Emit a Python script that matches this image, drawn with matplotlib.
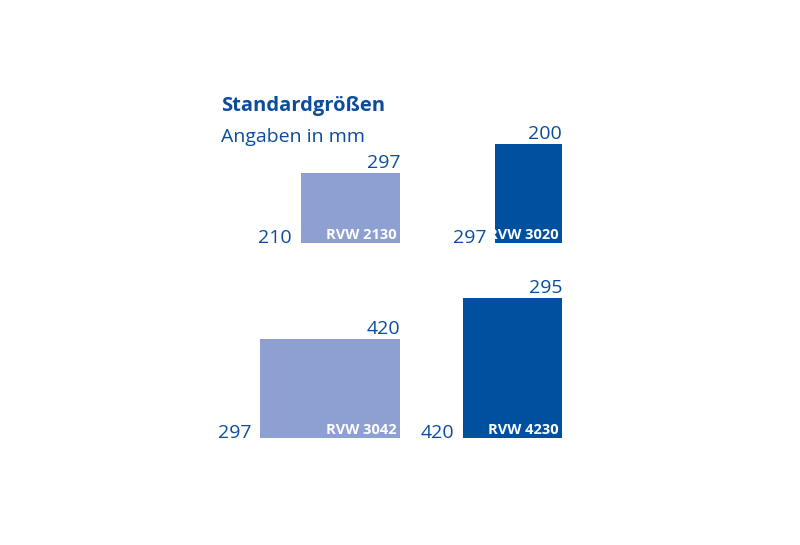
import matplotlib
matplotlib.use("Agg")
import matplotlib.pyplot as plt
from matplotlib.patches import Rectangle

names = ["RVW 2130", "RVW 3020", "RVW 3042", "RVW 4230"]
widths_mm = [297, 200, 420, 297]
heights_mm = [210, 297, 297, 420]
width_labels = ["297", "200", "420", "295"]
height_labels = ["210", "297", "297", "420"]
colors = ["#8E9FD1", "#0050A0", "#8E9FD1", "#0050A0"]
txt = "#0B4C9C"

# layout anchors in pixels (right edge, bottom)
anchors = [(400, 243), (562, 243), (400, 438), (562, 438)]
S = 3.0  # mm per pixel

fig = plt.figure(figsize=(8, 5.45), dpi=100)
ax = fig.add_axes([0, 0, 1, 1])
ax.set_xlim(0, 800 * S)
ax.set_ylim(545 * S, 0)
ax.axis("off")
fam = ["Open Sans", "DejaVu Sans"]

for n, w, h, wl, hl, c, (rx, by) in zip(names, widths_mm, heights_mm, width_labels, height_labels, colors, anchors):
    rxm, bym = rx * S, by * S
    ax.add_patch(Rectangle((rxm - w, bym - h), w, h, color=c, lw=0))
    ax.text(rxm, bym - h - 5 * S, wl, ha="right", va="baseline", fontsize=14, color=txt, family=fam)
    ax.text(rxm - w - 9 * S, bym, hl, ha="right", va="baseline", fontsize=14, color=txt, family=fam)
    ax.text(rxm - 3 * S, bym - 4 * S, n, ha="right", va="baseline", fontsize=10.5, color="white",
            fontweight="bold", family=fam)

ax.text(221 * S, 111 * S, "Standardgrößen", ha="left", va="baseline", fontsize=14.5, color=txt,
        fontweight="bold", family=fam)
ax.text(221 * S, 142 * S, "Angaben in mm", ha="left", va="baseline", fontsize=14, color=txt, family=fam)

fig.savefig("out.png", dpi=100)
